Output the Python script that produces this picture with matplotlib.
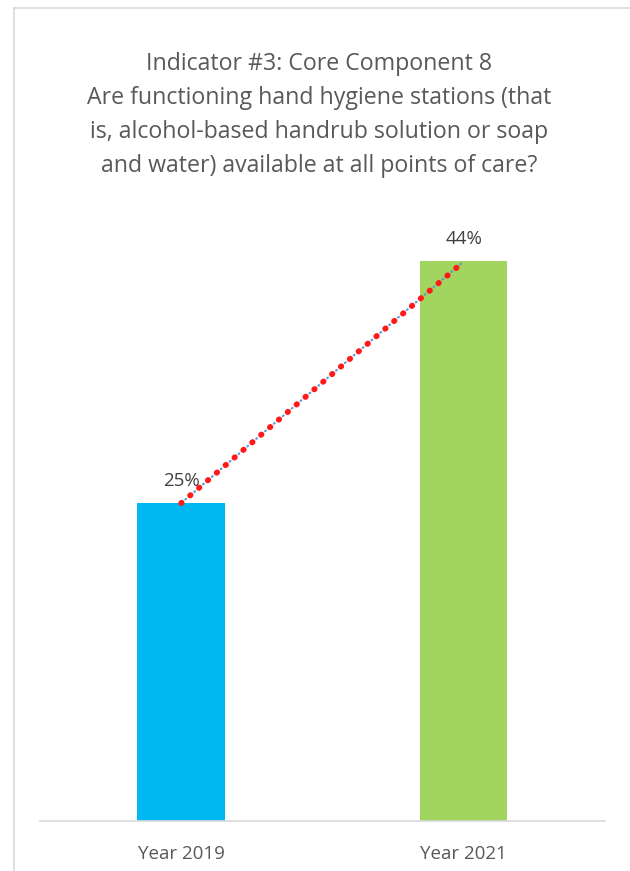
import matplotlib.pyplot as plt
from matplotlib.lines import Line2D

plt.rcParams['font.family'] = ['Open Sans', 'DejaVu Sans']

categories = ['Year 2019', 'Year 2021']
values = [25, 44]
bar_colors = ['#00B8F1', '#A1D55F']
title = ('Indicator #3: Core Component 8\n'
         'Are functioning hand hygiene stations (that\n'
         'is, alcohol-based handrub solution or soap\n'
         'and water) available at all points of care?')

fig = plt.figure(figsize=(6.30, 8.71), dpi=100)
ax = fig.add_axes([0.0635, 0.0574, 0.8965, 0.730])

x = list(range(len(categories)))
ax.bar(x, values, width=0.31, color=bar_colors, zorder=2)

# trend line between the bar tops: blue dots under red dots
ax.plot(x, values, color='#5B9BD5', linestyle=(3.0, (0.5, 5.1)), linewidth=1.5,
        dash_capstyle='round', zorder=3)
ax.plot([x[0], x[1] - 0.02], [values[0], values[1] - 0.4], color='#FF1A1A',
        linestyle=(0, (0.1, 1.9)), linewidth=4.2, dash_capstyle='round', zorder=4)

for xi, v in zip(x, values):
    ax.annotate('{}%'.format(v), (xi, v), xytext=(0, 16), textcoords='offset points',
                ha='center', va='center', fontsize=13.5, color='#404040', zorder=5)

ax.set_xlim(-0.5, 1.5)
ax.set_ylim(0, 50)
ax.set_xticks(x)
ax.set_xticklabels(categories, fontsize=13.5, color='#595959')
ax.tick_params(axis='x', length=0, pad=17)
ax.set_yticks([])
for side in ['top', 'right', 'left']:
    ax.spines[side].set_visible(False)
ax.spines['bottom'].set_color('#D9D9D9')
ax.spines['bottom'].set_linewidth(1.2)

fig.text(0.507, 0.868, title, ha='center', va='center', fontsize=16.7,
         color='#595959', linespacing=1.54)

# chart frame (top and left edges visible)
fig.add_artist(Line2D([14 / 630, 1.0], [1 - 8 / 871, 1 - 8 / 871],
                      transform=fig.transFigure, color='#D9D9D9', linewidth=1.2))
fig.add_artist(Line2D([14 / 630, 14 / 630], [0.0, 1 - 8 / 871],
                      transform=fig.transFigure, color='#D9D9D9', linewidth=1.2))

fig.savefig('out.png', dpi=100)
